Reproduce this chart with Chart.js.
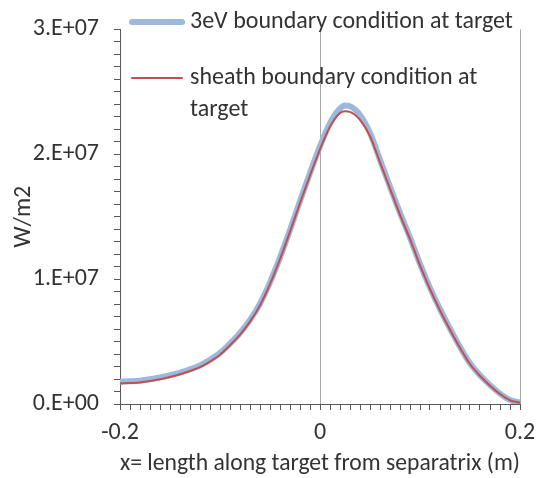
<!DOCTYPE html>
<html>
<head>
<meta charset="utf-8">
<script src="https://cdn.jsdelivr.net/npm/chart.js@4/dist/chart.umd.min.js"></script>
<style>
  body { margin: 0; background: #fff; }
</style>
</head>
<body>
<canvas id="chart" width="536" height="478"></canvas>
<script>
// heat flux profile along the target, W/m2 (values in units of 1e6)
const xPos = [-0.20, -0.19, -0.18, -0.17, -0.16, -0.15, -0.14, -0.13, -0.12, -0.11,
  -0.10, -0.09, -0.08, -0.07, -0.06, -0.05, -0.04, -0.03, -0.02, -0.01,
  0.00, 0.01, 0.02, 0.025, 0.03, 0.04, 0.05, 0.06, 0.07, 0.08,
  0.09, 0.10, 0.11, 0.12, 0.13, 0.14, 0.15, 0.16, 0.17, 0.18, 0.19, 0.20];

const flux3eV = [1.78, 1.82, 1.87, 1.98, 2.13, 2.31, 2.52, 2.78, 3.09, 3.54,
  4.09, 4.84, 5.69, 6.74, 8.04, 9.74, 11.74, 13.94, 16.25, 18.5,
  20.65, 22.5, 23.65, 23.9, 23.85, 23.15, 21.7, 19.55, 17.4, 15.3,
  13.33, 11.22, 9.3, 7.6, 6.03, 4.57, 3.26, 2.3, 1.51, 0.83, 0.32, 0.11];

const fluxSheath = [1.64, 1.68, 1.73, 1.84, 1.99, 2.17, 2.38, 2.64, 2.95, 3.40,
  3.95, 4.70, 5.55, 6.60, 7.90, 9.60, 11.6, 13.8, 16.1, 18.3,
  20.4, 22.2, 23.3, 23.45, 23.4, 22.75, 21.45, 19.35, 17.25, 15.15,
  13.2, 11.1, 9.2, 7.5, 5.95, 4.5, 3.2, 2.25, 1.47, 0.8, 0.3, 0.1];

const seriesNames = ['3eV boundary condition at target', 'sheath boundary condition at target'];
const legendLines = [['3eV boundary condition at target'], ['sheath boundary condition at', 'target']];

const FONT = 'Carlito, Lato, "Liberation Sans", sans-serif';
const textColor = '#333333';
const axisColor = '#595959';

function pts(vals) {
  return xPos.map((x, i) => ({ x: x, y: vals[i] * 1e6 }));
}

// legend drawn inside the plot area, wrapped like the original
const sideLegend = {
  id: 'sideLegend',
  afterDraw(chart) {
    const ctx = chart.ctx;
    const rows = [22, 78];
    ctx.save();
    ctx.font = '24px ' + FONT;
    ctx.fillStyle = textColor;
    ctx.textBaseline = 'middle';
    chart.data.datasets.forEach((ds, i) => {
      const y = rows[i];
      ctx.beginPath();
      ctx.strokeStyle = ds.borderColor;
      ctx.lineWidth = ds.borderWidth;
      ctx.lineCap = 'round';
      ctx.moveTo(132, y);
      ctx.lineTo(182, y);
      ctx.stroke();
      legendLines[i].forEach((t, j) => {
        ctx.fillText(t, 190, y + j * 32);
      });
    });
    ctx.restore();
  }
};

function isMajor(v, step) {
  return Math.abs(v / step - Math.round(v / step)) < 1e-6;
}

new Chart(document.getElementById('chart'), {
  type: 'line',
  data: {
    datasets: [
      {
        label: seriesNames[0],
        data: pts(flux3eV),
        borderColor: '#9db8dc',
        borderWidth: 6,
        pointRadius: 0,
        cubicInterpolationMode: 'monotone',
        order: 2
      },
      {
        label: seriesNames[1],
        data: pts(fluxSheath),
        borderColor: '#c0504d',
        borderWidth: 2,
        pointRadius: 0,
        cubicInterpolationMode: 'monotone',
        order: 1
      }
    ]
  },
  options: {
    responsive: false,
    animation: false,
    layout: { padding: { top: 23, right: 0, left: 0, bottom: 0 } },
    plugins: {
      legend: { display: false },
      tooltip: { enabled: false }
    },
    scales: {
      x: {
        type: 'linear',
        min: -0.2,
        max: 0.2,
        afterFit: (s) => {
          s.height = 74;
          s.paddingLeft = 0;
          s.paddingRight = 16;
        },
        border: { color: axisColor, width: 1 },
        grid: {
          drawOnChartArea: true,
          color: (c) => (c.tick && (Math.abs(c.tick.value) < 1e-6 || Math.abs(c.tick.value - 0.2) < 1e-6)) ? '#a6a6a6' : 'rgba(0,0,0,0)',
          tickColor: axisColor,
          tickLength: 6
        },
        ticks: {
          stepSize: 0.01,
          autoSkip: false,
          maxRotation: 0,
          padding: 9,
          color: textColor,
          font: { family: FONT, size: 24 },
          callback: (v) => {
            if (!isMajor(v, 0.2)) return '';
            const r = Math.round(v * 10) / 10;
            return r === 0 ? '0' : String(r);
          }
        },
        title: {
          display: true,
          text: 'x= length along target from separatrix (m)',
          color: textColor,
          font: { family: FONT, size: 24 },
          padding: { top: 0, bottom: 0 }
        }
      },
      y: {
        min: 0,
        max: 3e7,
        afterFit: (s) => { s.width = 120; },
        border: { color: axisColor, width: 1 },
        grid: {
          drawOnChartArea: false,
          tickColor: axisColor,
          tickLength: 6
        },
        ticks: {
          stepSize: 1e6,
          autoSkip: false,
          padding: 15,
          color: textColor,
          font: { family: FONT, size: 24 },
          callback: (v) => isMajor(v, 1e7) ? Math.round(v / 1e7) + '.E+' + (v === 0 ? '00' : '07') : ''
        },
        title: {
          display: true,
          text: 'W/m2',
          color: textColor,
          font: { family: FONT, size: 24 },
          padding: { top: 10, bottom: 10 }
        }
      }
    }
  },
  plugins: [sideLegend]
});
</script>
</body>
</html>
